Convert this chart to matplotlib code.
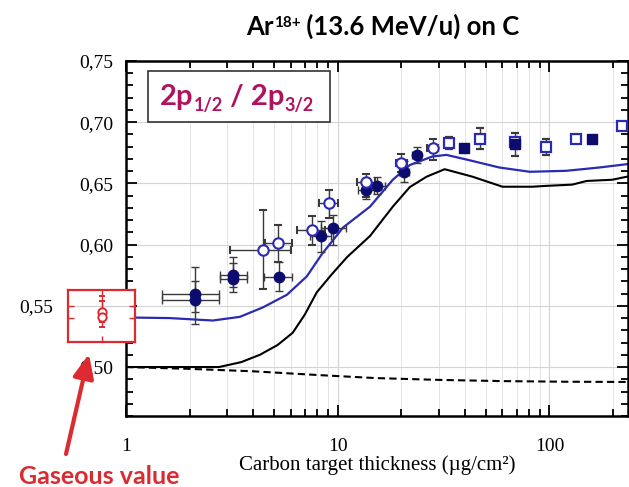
import matplotlib

matplotlib.use("Agg")

import matplotlib.pyplot as plt
import matplotlib.transforms as mtransforms
import numpy as np
from matplotlib.patches import Rectangle
from matplotlib.ticker import FixedLocator, FuncFormatter, MultipleLocator, NullFormatter

# theory curves
blue_x = [1, 1.6, 2.57, 3.45, 4.43, 5.75, 7.14, 8.4, 10.6, 14.2, 18.2, 21.9, 28, 32.6, 40.6, 58, 80.8, 120, 172, 240]
blue_y = [0.5405, 0.540, 0.538, 0.541, 0.5487, 0.559, 0.574, 0.592, 0.614, 0.631, 0.653, 0.665, 0.672, 0.6733,
          0.6695, 0.663, 0.6595, 0.6603, 0.663, 0.666]
black_x = [1, 2.75, 3.5, 4.29, 5.2, 6.13, 7.0, 7.96, 9.4, 11.1, 14.2, 18.2, 21.9, 26.3, 32, 43.3, 60, 83, 96.8,
           128, 150, 198, 240]
black_y = [0.500, 0.500, 0.504, 0.510, 0.518, 0.528, 0.543, 0.561, 0.576, 0.590, 0.607, 0.631, 0.647, 0.6555,
           0.6616, 0.6555, 0.6473, 0.6473, 0.648, 0.649, 0.652, 0.653, 0.656]
dash_x = [1, 2, 4, 8, 15, 30, 60, 120, 240]
dash_y = [0.500, 0.4985, 0.4965, 0.4935, 0.491, 0.4895, 0.4885, 0.488, 0.4878]

# filled circles
fc_x = [2.12, 2.12, 3.2, 3.2, 5.3, 8.32, 9.55, 13.6, 15.3, 20.6, 23.6]
fc_y = [0.5595, 0.555, 0.575, 0.5716, 0.5736, 0.6068, 0.6133, 0.6445, 0.648, 0.6595, 0.673]
fc_xlo = [1.48, 1.48, 2.77, 2.77, 4.5, 7.4, 8.3, 12.5, 13.8, 19.5, 22.5]
fc_xhi = [2.75, 2.75, 3.72, 3.72, 6.1, 9.3, 10.9, 14.8, 16.8, 21.8, 24.8]
fc_ylo = [0.545, 0.5355, 0.565, 0.5616, 0.562, 0.594, 0.600, 0.637, 0.641, 0.651, 0.667]
fc_yhi = [0.582, 0.570, 0.5895, 0.585, 0.586, 0.619, 0.624, 0.652, 0.655, 0.668, 0.680]

# open circles
oc_x = [4.43, 5.21, 7.54, 9.06, 13.6, 20.0, 28.1]
oc_y = [0.596, 0.6017, 0.6117, 0.634, 0.651, 0.6665, 0.6788]
oc_xlo = [3.1, 4.55, 6.4, 8.2, 12.3, 18.8, 26.5]
oc_xhi = [6.0, 6.1, 8.7, 10.0, 15.0, 21.3, 29.8]
oc_ylo = [0.564, 0.586, 0.600, 0.622, 0.639, 0.659, 0.669]
oc_yhi = [0.628, 0.616, 0.623, 0.645, 0.658, 0.674, 0.686]

# squares
os_x = [33.4, 46.8, 68.4, 96.7, 134, 220]
os_y = [0.683, 0.6865, 0.684, 0.6795, 0.686, 0.6965]
os_ylo = [0.678, 0.678, 0.672, 0.673, 0.684, 0.695]
os_yhi = [0.688, 0.695, 0.691, 0.686, 0.688, 0.698]
fs_x = [39.3, 68.4, 159]
fs_y = [0.679, 0.682, 0.686]

# gaseous value
gas_y = [0.545, 0.5405]
gas_ylo = [0.5323, 0.5364]
gas_yhi = [0.5577, 0.5536]

RED = "#dc2b30"
NAVY = "#0c0c6e"
BLUE = "#2a2ab4"
ERR = "#3a3a3a"
W, H = 629, 487

fig = plt.figure(figsize=(W / 100, H / 100), dpi=100)
ax = fig.add_axes([126 / W, 71 / H, 502 / W, 355 / H])
ax.set_xscale("log")
ax.set_xlim(1, 235)
ax.set_ylim(0.46, 0.75)

ax.plot(dash_x, dash_y, color="black", lw=1.5, ls=(0, (3.5, 2)), zorder=2)
ax.plot(black_x, black_y, color="black", lw=1.5, zorder=2)
ax.plot(blue_x, blue_y, color=BLUE, lw=1.6, zorder=2)


def errs(v, lo, hi):
    v = np.array(v)
    return np.array([v - np.array(lo), np.array(hi) - v])


ax.errorbar(fc_x, fc_y, xerr=errs(fc_x, fc_xlo, fc_xhi), yerr=errs(fc_y, fc_ylo, fc_yhi),
            fmt="o", ms=7.5, mfc=NAVY, mec=NAVY, ecolor=ERR, elinewidth=1, capsize=3, zorder=4)
ax.errorbar(oc_x, oc_y, xerr=errs(oc_x, oc_xlo, oc_xhi), yerr=errs(oc_y, oc_ylo, oc_yhi),
            fmt="o", ms=7.5, mfc="white", mec=BLUE, mew=1.5, ecolor=ERR, elinewidth=1, capsize=3, zorder=4)
ax.errorbar(os_x, os_y, yerr=errs(os_y, os_ylo, os_yhi),
            fmt="s", ms=7, mfc="white", mec=BLUE, mew=1.6, ecolor=ERR, elinewidth=1, capsize=3, zorder=4)
ax.plot(fs_x, fs_y, "s", ms=7, mfc=NAVY, mec=NAVY, zorder=5)

# axes style
for s in ax.spines.values():
    s.set_linewidth(1.8)
ax.xaxis.set_major_locator(FixedLocator([1, 10, 100]))
ax.xaxis.set_major_formatter(FuncFormatter(lambda v, p: f"{v:g}"))
ax.xaxis.set_minor_locator(FixedLocator([m * d for d in (1, 10, 100) for m in range(2, 10)]))
ax.xaxis.set_minor_formatter(NullFormatter())
ax.yaxis.set_major_locator(MultipleLocator(0.05))
ax.yaxis.set_minor_locator(MultipleLocator(0.01))
# 0,55 is drawn by hand further left, next to the gaseous box
ax.yaxis.set_major_formatter(
    FuncFormatter(lambda v, p: "" if abs(v - 0.55) < 1e-6 else f"{v:.2f}".replace(".", ",")))
ax.tick_params(which="both", direction="in", top=True, right=True, width=1.3)
ax.tick_params(which="major", length=8, labelsize=14)
ax.tick_params(axis="y", which="major", pad=9)
ax.tick_params(axis="x", which="major", pad=16)
ax.tick_params(which="minor", length=5)
for lab in ax.get_xticklabels() + ax.get_yticklabels():
    lab.set_fontfamily("Liberation Serif")
ax.grid(True, which="major", color="#d4d4d4", lw=0.8, zorder=0)
ax.grid(True, which="minor", axis="x", color="#e4e4e4", lw=0.7, zorder=0)

trans = mtransforms.blended_transform_factory(ax.transAxes, ax.transData)
ax.text((53 - 126) / 502, 0.55, "0,55", transform=trans, ha="right", va="center_baseline",
        family="Liberation Serif", fontsize=14, clip_on=False)

ax.set_xlabel("Carbon target thickness (µg/cm²)", family="Liberation Serif", fontsize=15, labelpad=0)


def text_runs(cx, base_top, parts, color, family="Lato", weight="bold"):
    # parts: (string, fontsize, raise in px); placed side by side, centred on cx
    renderer = fig.canvas.get_renderer()
    widths = []
    for s, size, dy in parts:
        t = fig.text(0, 0, s.replace(" ", "\u00a0"), fontsize=size, family=family, fontweight=weight)
        widths.append(t.get_window_extent(renderer).width)
        t.remove()
    x = cx - sum(widths) / 2
    for (s, size, dy), w in zip(parts, widths):
        fig.text(x / W, (H - base_top + dy) / H, s.replace(" ", "\u00a0"), fontsize=size, family=family,
                 fontweight=weight, color=color, va="baseline", ha="left", zorder=7)
        x += w


text_runs(383, 35, [("Ar", 18.5, 0), ("18+", 11, 8), (" (13.6 MeV/u) on C", 18.5, 0)], "black")

fig.add_artist(Rectangle((148 / W, (H - 122) / H), 182 / W, 51 / H, transform=fig.transFigure,
                         fc="white", ec="#333333", lw=1.2, zorder=6))
text_runs(237, 105, [("2p", 21, 0), ("1/2", 13, -6), (" / 2p", 21, 0), ("3/2", 13, -6)], "#b0125e")

# gaseous value inset
ins = fig.add_axes([68 / W, (H - 342) / H, 67 / W, 52 / H], zorder=5)
ins.set_xlim(0, 1)
ins.set_ylim(0.5204, 0.5629)
ins.set_facecolor("white")
for s in ins.spines.values():
    s.set_color(RED)
    s.set_linewidth(1.6)
ins.axhline(0.55, color="#cfcfcf", lw=0.8, zorder=0)
ins.errorbar([0.5, 0.5], gas_y, yerr=errs(gas_y, gas_ylo, gas_yhi), fmt="o", ms=6, mfc="white",
             mec=RED, mew=1.4, ecolor=RED, elinewidth=1, capsize=2.5)
ins.set_xticks([0.5])
ins.set_yticks([0.54, 0.55])
ins.tick_params(direction="in", top=True, right=True, color=RED, length=4, width=1,
                labelbottom=False, labelleft=False)

ax.annotate("", xy=(89, 133), xytext=(66, 33), xycoords="figure pixels", textcoords="figure pixels",
            arrowprops=dict(arrowstyle="-|>,head_length=0.8,head_width=0.35", color=RED, lw=3,
                            mutation_scale=18, shrinkA=0, shrinkB=0), annotation_clip=False)
fig.text(99 / W, 10 / H, "Gaseous value", ha="center", va="center", family="Lato",
         fontweight="bold", fontsize=18, color=RED)

fig.savefig("out.png", dpi=100)
